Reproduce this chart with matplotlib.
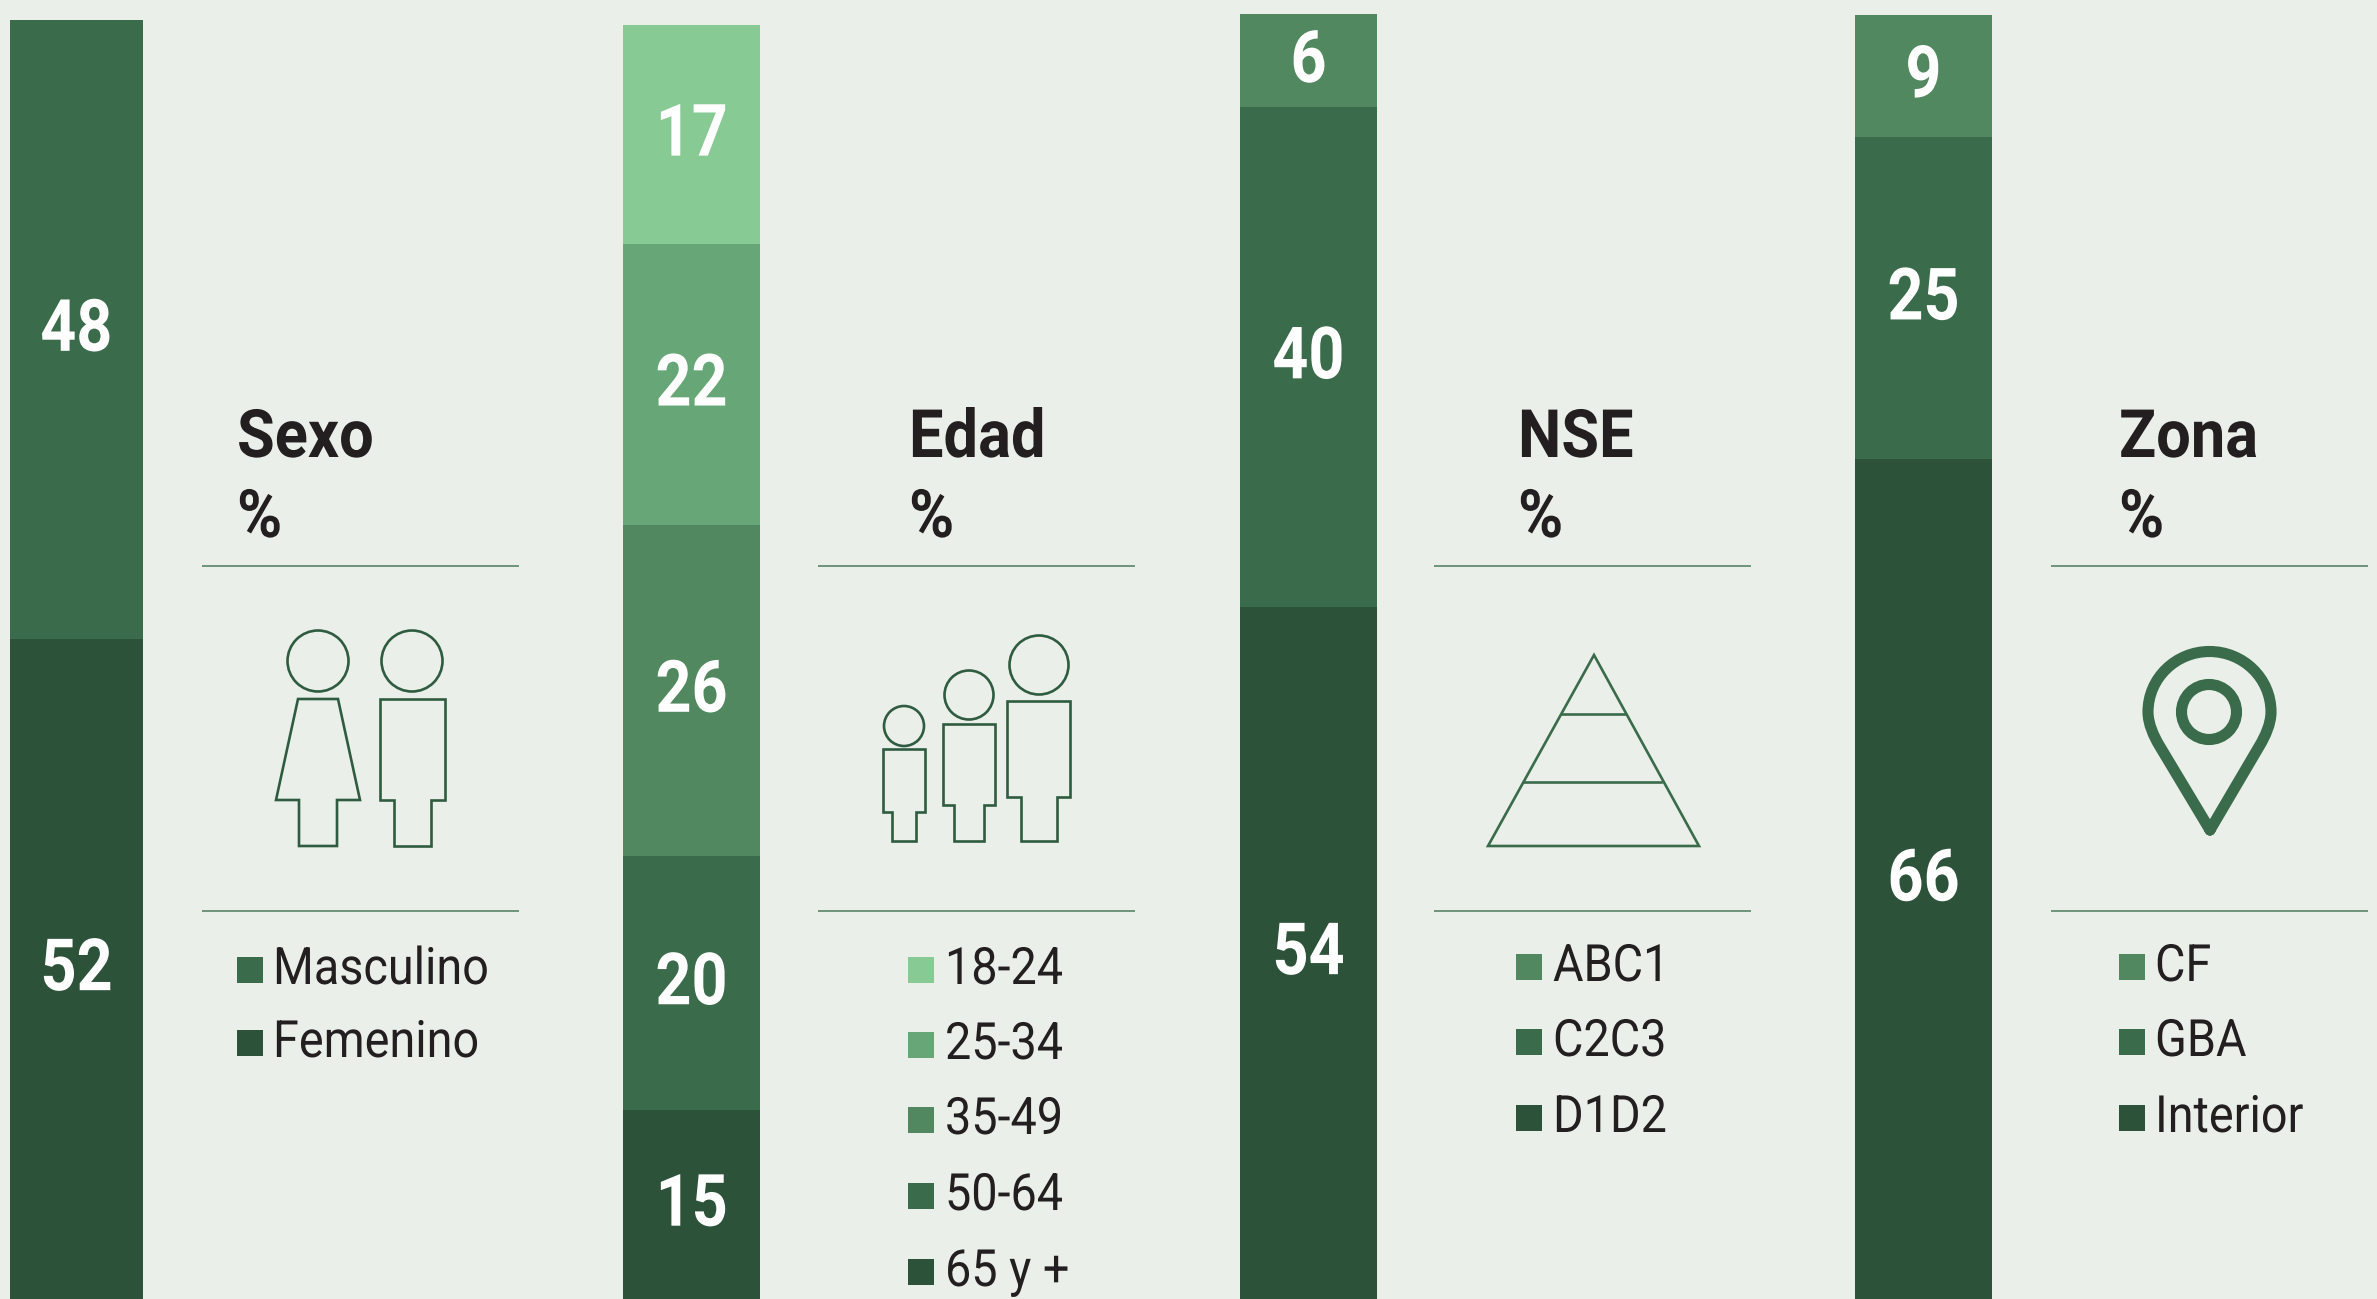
import matplotlib
matplotlib.use('Agg')
from matplotlib import pyplot as plt
from matplotlib.patches import Ellipse, Polygon, PathPatch, Rectangle
from matplotlib.path import Path
from matplotlib.patheffects import AbstractPathEffect
from matplotlib.transforms import Affine2D

W, H = 2377, 1299
BG = '#EAEFE9'
ICON = '#2F5C40'
TXT = '#231F20'

plt.rcParams['font.family'] = ['Roboto', 'DejaVu Sans']

# segments go bottom to top; the heights are what the picture shows,
# the printed numbers do not always agree with them
sexo_cat = ['Femenino', 'Masculino']
sexo_val = [51.6, 48.3]
sexo_lab = ['52', '48']

edad_cat = ['65 y +', '50-64', '35-49', '25-34', '18-24']
edad_val = [14.8, 19.8, 25.9, 21.95, 17.1]
edad_lab = ['15', '20', '26', '22', '17']

nse_cat = ['D1D2', 'C2C3', 'ABC1']
nse_val = [54.1, 39.0, 7.3]
nse_lab = ['54', '40', '6']

zona_cat = ['Interior', 'GBA', 'CF']
zona_val = [65.6, 25.2, 9.55]
zona_lab = ['66', '25', '9']

verdes = ['#2C5239', '#3A6B4A', '#52885F', '#67A677', '#88CA93']


# no Roboto Condensed here, so squeeze the glyphs of plain Roboto
class Angosto(AbstractPathEffect):
    def __init__(self, sx, centrado=False):
        super().__init__()
        self.sx = sx
        self.centrado = centrado

    def draw_path(self, renderer, gc, tpath, affine, rgbFace=None):
        cx = 0
        if self.centrado:
            e = tpath.get_extents()
            cx = (e.x0 + e.x1) / 2
        t = Affine2D().translate(-cx, 0).scale(self.sx, 1).translate(cx, 0)
        renderer.draw_path(gc, tpath, t + affine, rgbFace)


fig = plt.figure(figsize=(W / 100, H / 100), dpi=100, facecolor=BG)


def barra(x0, x1, valores, labels):
    ax = fig.add_axes([x0 / W, 0, (x1 - x0) / W, 1])
    ax.set_xlim(0, 1)
    ax.set_ylim(0, H / 12.8)
    ax.axis('off')
    base = 0
    for n, v in enumerate(valores):
        ax.bar(0.5, v, 1, bottom=base, color=verdes[n], linewidth=0)
        ax.text(0.5, base + v / 2 - 0.15, labels[n], color='white', ha='center', va='center',
                fontsize=52, fontweight='bold', path_effects=[Angosto(0.87, True)])
        base += v


barra(10, 143, sexo_val, sexo_lab)
barra(623, 760, edad_val, edad_lab)
barra(1240, 1377, nse_val, nse_lab)
barra(1855, 1992, zona_val, zona_lab)

# everything else is placed in pixels of the image
ov = fig.add_axes([0, 0, 1, 1], zorder=5)
ov.set_xlim(0, W)
ov.set_ylim(H, 0)
ov.axis('off')
ov.patch.set_alpha(0)


def panel(titulo, xt, x0, cats, colores, xc, xl, ys):
    for s, y in ((titulo, 457), ('%', 537)):
        ov.text(xt, y, s, fontsize=48, fontweight='bold', color=TXT, va='baseline',
                path_effects=[Angosto(0.92)])
    for y in (566, 911):
        ov.plot([x0, x0 + 317], [y, y], color='#5B8468', lw=1.2, solid_capstyle='butt')
    for c, col, y in zip(cats, colores, ys):
        ov.add_patch(Rectangle((xc, y - 13), 26, 26, color=col, lw=0))
        ov.text(xl, y + 14, c, fontsize=37, color=TXT, va='baseline',
                path_effects=[Angosto(0.91)])


panel('Sexo', 237, 202, sexo_cat, verdes[:2], 237, 273, [1043, 970])
panel('Edad', 909, 818, edad_cat, verdes, 908, 945, [1272, 1196, 1120, 1045, 970])
panel('NSE', 1518, 1434, nse_cat, verdes[:3], 1516, 1553, [1118, 1042, 967])
panel('Zona', 2119, 2051, zona_cat, verdes[:3], 2119, 2155, [1118, 1042, 967])


def cabeza(x, y, r):
    ov.add_patch(Ellipse((x, y), 2 * r, 2 * r, fill=False, ec=ICON, lw=1.9))


def cuerpo(pts):
    ov.add_patch(Polygon(pts, closed=True, fill=False, ec=ICON, lw=1.9, joinstyle='miter'))


def persona(xc, r, yh, x0, x1, ytop, ybod, l0, l1, ybot):
    cabeza(xc, yh, r)
    cuerpo([(x0, ytop), (x1, ytop), (x1, ybod), (l1, ybod), (l1, ybot), (l0, ybot), (l0, ybod), (x0, ybod)])


# sexo
cabeza(318, 661, 30.5)
cuerpo([(298, 699), (338, 699), (360, 800), (337, 800), (337, 846), (299, 846), (299, 800), (276, 800)])
persona(412, 30.5, 661, 380, 445, 699, 800, 394, 431, 846)

# edad
persona(904, 20, 726, 883, 925, 749, 812, 892, 916, 841)
persona(969, 24.5, 695, 943, 995, 724, 805, 954, 984, 841)
persona(1039, 29.5, 665, 1007, 1070, 701, 797, 1021, 1057, 841)

# piramide
ov.add_patch(Polygon([(1594, 655), (1699, 846), (1488, 846)], closed=True, fill=False,
                     ec='#3A6B4A', lw=1.9, joinstyle='miter'))
ov.plot([1562, 1625], [714, 714], color='#3A6B4A', lw=1.9)
ov.plot([1524, 1661], [782, 782], color='#3A6B4A', lw=1.9)

# pin
verts = [(2210, 830), (2159, 745), (2154, 736.5), (2148, 724), (2148, 712),
         (2148, 678), (2176, 651.5), (2209.5, 651.5),
         (2243, 651.5), (2271, 678), (2271, 712),
         (2271, 724), (2265, 736.5), (2260, 745), (2210, 830)]
codes = [Path.MOVETO, Path.LINETO, Path.CURVE4, Path.CURVE4, Path.CURVE4,
         Path.CURVE4, Path.CURVE4, Path.CURVE4,
         Path.CURVE4, Path.CURVE4, Path.CURVE4,
         Path.CURVE4, Path.CURVE4, Path.CURVE4, Path.LINETO]
ov.add_patch(PathPatch(Path(verts, codes), fill=False, ec='#3A6B4A', lw=8, joinstyle='round', capstyle='round'))
ov.add_patch(Ellipse((2209, 712), 55, 55, fill=False, ec='#3A6B4A', lw=8))

fig.savefig('out.png', dpi=100, facecolor=BG)
